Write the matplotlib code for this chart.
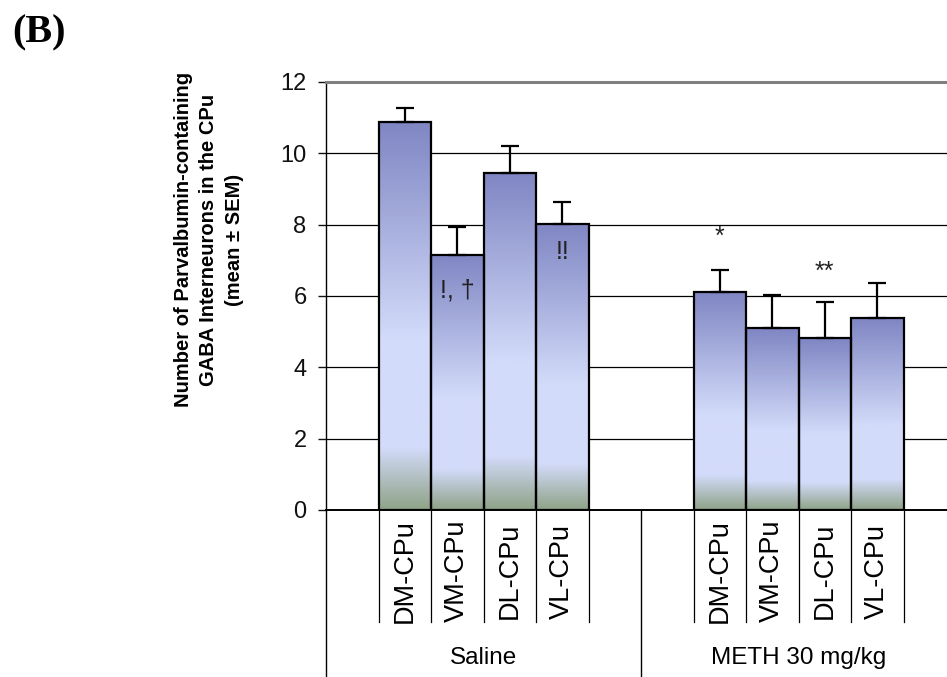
import numpy as np
import matplotlib.pyplot as plt
from matplotlib.colors import LinearSegmentedColormap

plt.rcParams['font.family'] = ['Liberation Sans', 'DejaVu Sans']

# cell counts per striatal subregion (mean and SEM)
regions = ['DM-CPu', 'VM-CPu', 'DL-CPu', 'VL-CPu']
groups = ['Saline', 'METH 30 mg/kg']
saline_mean = [10.89, 7.15, 9.44, 8.02]
saline_sem = [0.37, 0.79, 0.76, 0.61]
meth_mean = [6.10, 5.10, 4.81, 5.37]
meth_sem = [0.62, 0.94, 1.02, 1.00]

# significance marks: (group index, region index, text, y position)
marks = [(0, 1, '!, \u2020', 5.95),
         (0, 3, '!!', 7.05),
         (1, 0, '*', 7.47),
         (1, 2, '**', 6.47)]

SLOTS = 6  # per group: empty, 4 regions, empty

fig = plt.figure(figsize=(9.47, 6.77), dpi=100)
ax = fig.add_axes([326/947, 1 - 510/677, 630/947, 428/677])

grad = LinearSegmentedColormap.from_list(
    'barfill', [(0.0, '#8fa388'), (0.16, '#d3dbfa'), (0.44, '#d3dbfa'), (1.0, '#7f86c3')])
ramp = np.linspace(0, 1, 256).reshape(-1, 1)

means = [saline_mean, meth_mean]
sems = [saline_sem, meth_sem]
for g in range(len(groups)):
    xs = np.arange(len(regions)) + g * SLOTS + 1.5
    for x, m in zip(xs, means[g]):
        ax.imshow(ramp, cmap=grad, origin='lower', aspect='auto',
                  extent=[x - 0.5, x + 0.5, 0, m], zorder=2)
    ax.bar(xs, means[g], width=1.0, fill=False, edgecolor='black',
           linewidth=1.6, zorder=3)
    ax.errorbar(xs, means[g], yerr=[np.zeros(len(xs)), sems[g]], fmt='none',
                ecolor='black', elinewidth=1.6, capsize=6.5, capthick=1.6, zorder=4)

for g, r, txt, y in marks:
    ax.text(g * SLOTS + r + 1.5, y, txt, ha='center', va='baseline',
            fontsize=18, color='#222222', zorder=5)

ax.set_xlim(0, 2 * SLOTS)
ax.set_ylim(0, 12)
ax.set_yticks(range(0, 13, 2))
ax.tick_params(axis='y', direction='out', length=6, width=1, pad=8,
               labelsize=17, colors='#111111')
ax.set_xticks([])
for y in range(2, 12, 2):
    ax.axhline(y, color='black', linewidth=0.9, zorder=1)

ax.spines['right'].set_visible(False)
ax.spines['top'].set_color('#808080')
ax.spines['top'].set_linewidth(2.2)
ax.spines['left'].set_linewidth(1.0)
ax.spines['bottom'].set_linewidth(1.4)

ax.set_ylabel('Number of Parvalbumin-containing\nGABA Interneurons in the CPu\n(mean \u00b1 SEM)',
              fontsize=14.5, fontweight='bold', linespacing=1.45, va='center')
ax.yaxis.set_label_coords(-0.186, 0.631)

# two-level category axis below the plot
tr = ax.get_xaxis_transform()
for g, name in enumerate(groups):
    base = g * SLOTS
    for k in range(1, SLOTS):
        ax.plot([base + k, base + k], [0, -0.262], color='black', linewidth=0.9,
                transform=tr, clip_on=False)
    for k, reg in enumerate(regions):
        ax.text(base + k + 1.5, -0.143, reg, rotation=90, ha='center', va='center',
                fontsize=19.5, transform=tr)
    ax.text(base + SLOTS / 2, -0.346, name, ha='center', va='center',
            fontsize=17.5, transform=tr)
for x in [0, SLOTS, 2 * SLOTS]:
    ax.plot([x, x], [0, -0.45], color='black', linewidth=1.0,
            transform=tr, clip_on=False)

fig.text(12/947, 1 - 14/677, '(B)', ha='left', va='top', fontsize=29,
         fontweight='bold', family='Liberation Serif')

fig.savefig('out.png', dpi=100)
